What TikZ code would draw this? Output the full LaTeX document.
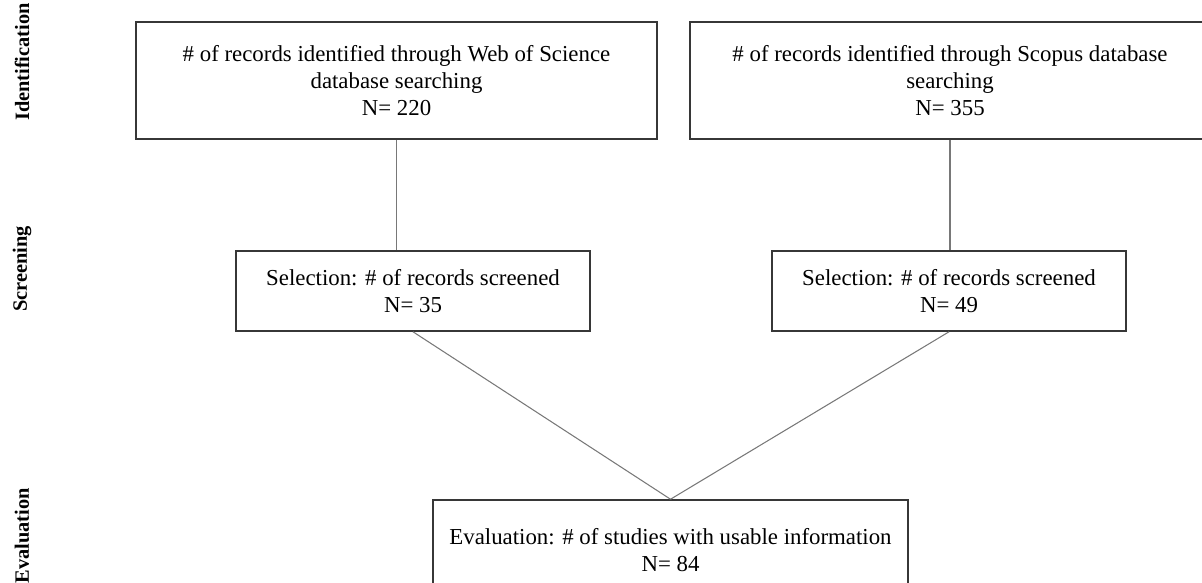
\documentclass[tikz,border=0pt]{standalone}
\usepackage{fontspec}
\setmainfont{Liberation Serif}
\usepackage{tikz}
\usetikzlibrary{calc}
\definecolor{boxline}{RGB}{55,55,55}
\definecolor{linkline}{RGB}{120,120,120}
\tikzset{
  stagebox/.style={draw=boxline,line width=0.9pt,inner sep=0pt,align=center,
    font=\fontsize{13}{15.5}\selectfont},
  stagelabel/.style={rotate=90,font=\fontsize{11.6}{13}\selectfont\bfseries},
  link/.style={draw=linkline,line width=0.6pt}
}

\begin{document}
\begin{tikzpicture}
\begin{scope}[x=0.02cm,y=-0.02cm]
  \useasboundingbox (0,0) rectangle (1202,582);
  \clip (0,0) rectangle (1202,582);
  % phase labels on the left
  \node[stagelabel] (lident) at (22,62) {Identification};
  \node[stagelabel] (lscreen) at (22,269) {Screening};
  \node[stagelabel] (leval) at (22,536) {Evaluation};
  % identification
  \node[stagebox,minimum width=10.42cm,minimum height=2.34cm] (wos) at (396.5,80.5)
  {\# of records identified through Web of Science\\ database searching\\ N= 220};
  \node[stagebox,minimum width=10.4cm,minimum height=2.34cm] (scopus) at (950,80.5)
  {\# of records identified through Scopus database\\ searching\\ N= 355};
  % screening
  \node[stagebox,minimum width=7.08cm,minimum height=1.6cm] (sel1) at (413,291)
  {Selection: \# of records screened\\ N= 35};
  \node[stagebox,minimum width=7.08cm,minimum height=1.6cm] (sel2) at (949,291)
  {Selection: \# of records screened\\ N= 49};
  % evaluation
  \node[stagebox,minimum width=9.5cm,minimum height=2cm] (eval) at (670.5,550)
  {Evaluation: \# of studies with usable information\\ N= 84};
  \draw[link] (wos.south) -- (wos.south |- sel1.north);
  \draw[link] (scopus.south) -- (scopus.south |- sel2.north);
  \draw[link] (sel1.south) -- (eval.north);
  \draw[link] (sel2.south) -- (eval.north);
\end{scope}
\end{tikzpicture}
\end{document}
